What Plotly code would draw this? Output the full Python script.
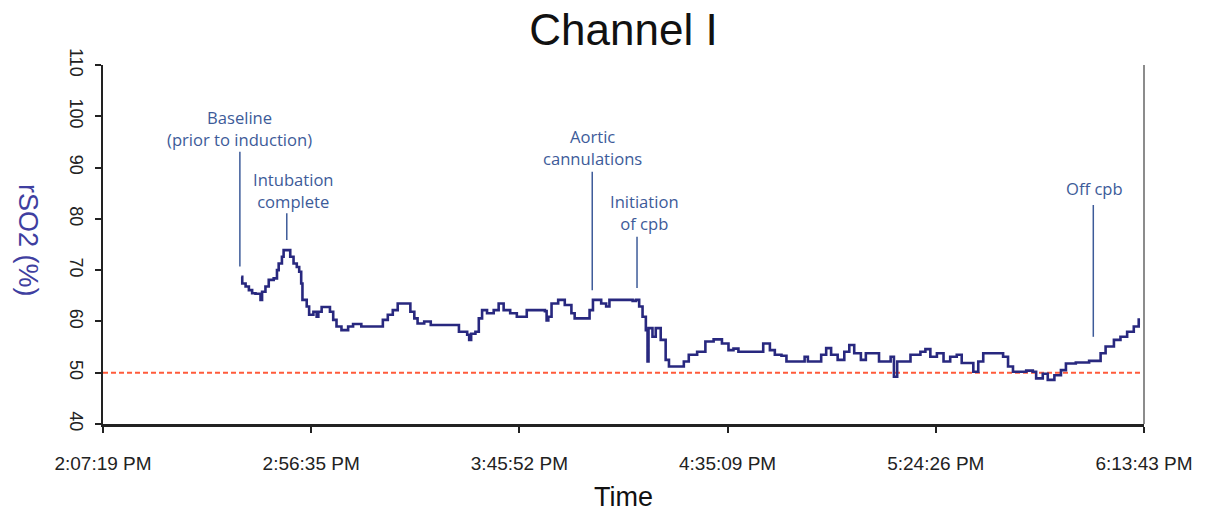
import datetime as dt
import plotly.graph_objects as go

# Recording window and axis tick labels
start_clock = "2:07:19 PM"
tick_labels = ["2:07:19 PM", "2:56:35 PM", "3:45:52 PM", "4:35:09 PM", "5:24:26 PM", "6:13:43 PM"]

# Regional oxygen saturation trace (minutes after start, rSO2 %)
elapsed_min = [
    32.72, 32.96, 33.75, 34.53, 35.30, 36.10, 37.28, 37.65, 38.45, 39.23,
    40.40, 41.18, 41.58, 42.35, 42.75, 43.76, 44.32, 45.10, 45.87, 46.44,
    46.91, 47.21, 48.22, 48.79, 49.80, 50.57, 50.97, 51.75, 53.32, 53.72,
    54.49, 55.27, 56.44, 58.02, 59.19, 60.37, 61.14, 65.46, 66.24, 67.41,
    68.59, 69.76, 72.11, 72.75, 73.69, 74.46, 76.03, 77.58, 83.86, 84.25,
    86.20, 86.67, 87.14, 88.15, 88.95, 89.73, 90.90, 92.48, 93.65, 94.83,
    96.38, 97.95, 99.52, 100.30, 102.65, 104.60, 105.00, 105.40, 106.17, 107.74,
    109.30, 110.87, 111.64, 114.00, 115.17, 115.97, 117.92, 119.09, 119.87, 121.44,
    125.36, 126.14, 126.91, 127.71, 128.49, 128.89, 129.12, 130.06, 130.83, 132.01,
    133.18, 133.96, 137.48, 138.65, 140.63, 142.58, 144.53, 146.50, 148.05, 149.23,
    150.40, 155.10, 156.27, 157.85, 159.02, 160.59, 161.77, 165.29, 166.07, 166.84,
    169.19, 169.99, 171.17, 172.34, 173.89, 175.46, 176.64, 177.81, 179.39, 180.56,
    182.51, 183.68, 185.26, 186.43, 187.21, 187.98, 190.33, 191.13, 193.48, 194.66,
    195.83, 197.38, 198.95, 200.53, 202.08, 203.25, 205.22, 206.00, 207.17, 208.35,
    210.70, 213.05, 214.22, 215.39, 218.52, 220.09, 220.87, 222.44, 223.62, 225.19,
    226.74, 227.92, 230.26, 233.41, 235.36, 236.13, 237.31, 239.28, 240.83, 242.41,
    243.98, 245.15,
]
rso2 = [
    68.7, 67.4, 66.8, 66.1, 65.5, 65.4, 64.2, 65.8, 66.8, 68.1,
    68.4, 70.0, 71.3, 72.6, 73.9, 73.9, 72.6, 71.3, 70.6, 69.7,
    67.4, 64.2, 62.9, 61.3, 61.9, 60.9, 61.9, 62.8, 62.8, 61.9,
    60.3, 59.0, 58.3, 59.0, 59.5, 59.5, 59.0, 59.0, 60.3, 61.3,
    62.2, 63.5, 63.5, 61.9, 60.6, 59.6, 60.0, 59.3, 59.3, 58.0,
    57.4, 56.4, 57.6, 58.0, 60.6, 62.2, 61.6, 62.2, 63.5, 62.2,
    61.6, 60.9, 60.9, 62.2, 62.2, 62.0, 60.2, 60.9, 63.5, 64.2,
    63.2, 61.6, 60.6, 60.6, 62.2, 64.2, 63.5, 62.9, 64.2, 64.2,
    64.0, 64.2, 62.9, 60.9, 58.3, 52.2, 58.7, 57.0, 58.7, 56.4,
    52.5, 51.2, 52.2, 53.5, 54.1, 56.1, 56.5, 55.7, 54.4, 54.7,
    54.1, 54.1, 55.7, 54.4, 53.5, 53.3, 52.2, 52.2, 53.1, 52.2,
    52.2, 53.5, 54.8, 53.5, 52.5, 54.1, 55.4, 53.8, 52.5, 53.8,
    53.8, 52.2, 52.2, 53.1, 49.2, 52.2, 52.2, 53.5, 54.1, 54.6,
    53.1, 53.8, 52.2, 53.1, 53.5, 51.9, 51.9, 50.2, 52.2, 53.8,
    53.8, 53.1, 51.2, 50.2, 50.4, 50.2, 48.9, 49.8, 48.6, 49.5,
    50.5, 51.8, 52.0, 52.3, 52.3, 53.8, 55.1, 56.4, 57.0, 58.0,
    59.0, 60.6,
]

# Clinical events marked on the trace
event_labels = ["Baseline<br>(prior to induction)", "Intubation<br>complete",
                "Aortic<br>cannulations", "Initiation<br>of cpb", "Off cpb"]
event_min = [32.4, 43.5, 115.8, 126.4, 234.4]

# Where each event's label and leader line sit (value units)
label_x = [32.4, 45.1, 115.8, 128.1, 234.7]
label_y = [97.7, 85.6, 94.0, 81.3, 86.0]
leader_top = [93.1, 81.1, 89.2, 76.5, 82.7]
leader_bottom = [70.7, 75.9, 66.1, 66.5, 57.0]

threshold = 50

fmt = "%I:%M:%S %p"
t0 = dt.datetime.strptime(start_clock, fmt)
tick_vals = [(dt.datetime.strptime(s, fmt) - t0).total_seconds() / 60 for s in tick_labels]

EVENT_COLOR = "#3d5b99"
AXIS_FONT = "Liberation Sans, Arial, sans-serif"

fig = go.Figure()
fig.add_trace(go.Scatter(
    x=elapsed_min, y=rso2, mode="lines",
    line=dict(color="#28287f", width=2.6, shape="hv"),
    hoverinfo="skip", showlegend=False,
))

shapes = [
    # threshold line
    dict(type="line", xref="paper", yref="y", x0=0, x1=1, y0=threshold, y1=threshold,
         line=dict(color="#ff5b3b", width=2, dash="5px,3px"), layer="below"),
    # right frame edge
    dict(type="line", xref="paper", yref="paper", x0=1, x1=1, y0=0, y1=1,
         line=dict(color="#8c8c8c", width=2)),
]
for ex, top, bot in zip(event_min, leader_top, leader_bottom):
    shapes.append(dict(type="line", xref="x", yref="y", x0=ex, x1=ex, y0=bot, y1=top,
                       line=dict(color=EVENT_COLOR, width=1.5)))

annotations = []
for txt, lx, ly in zip(event_labels, label_x, label_y):
    annotations.append(dict(
        x=lx, y=ly, xref="x", yref="y", text=txt, showarrow=False,
        xanchor="center", yanchor="middle",
        font=dict(family="Open Sans, Noto Sans, sans-serif", size=16.6, color=EVENT_COLOR),
    ))
annotations.append(dict(
    x=-0.072, y=0.5125, xref="paper", yref="paper", text="rSO2 (%)", showarrow=False,
    textangle=90, xanchor="center", yanchor="middle",
    font=dict(family=AXIS_FONT, size=27, color="#3f3fa0"),
))
annotations.append(dict(
    x=0.5, y=-0.203, xref="paper", yref="paper", text="Time", showarrow=False,
    xanchor="center", yanchor="middle",
    font=dict(family=AXIS_FONT, size=27, color="#111111"),
))

fig.update_layout(
    width=1205, height=513,
    margin=dict(l=103, r=53, t=65, b=89),
    paper_bgcolor="white", plot_bgcolor="white",
    title=dict(text="Channel I", x=0.5, xref="paper", y=0.943, yref="container",
               xanchor="center", yanchor="middle",
               font=dict(family=AXIS_FONT, size=44, color="#111111")),
    shapes=shapes,
    annotations=annotations,
    xaxis=dict(
        range=[tick_vals[0], tick_vals[-1]],
        tickvals=tick_vals, ticktext=tick_labels,
        showgrid=False, zeroline=False,
        showline=True, linecolor="#222222", linewidth=2.5,
        ticks="outside", ticklen=6, tickwidth=1.5, tickcolor="#222222",
        ticklabelstandoff=14,
        tickfont=dict(family=AXIS_FONT, size=19, color="#222222"),
    ),
    yaxis=dict(
        range=[40, 110], tickvals=list(range(40, 111, 10)),
        showgrid=False, zeroline=False,
        showline=True, linecolor="#222222", linewidth=1.5,
        ticks="outside", ticklen=6, tickwidth=1.5, tickcolor="#222222",
        tickangle=90, ticklabelstandoff=4,
        tickfont=dict(family=AXIS_FONT, size=18, color="#222222"),
    ),
)

fig.write_html("out.html")
